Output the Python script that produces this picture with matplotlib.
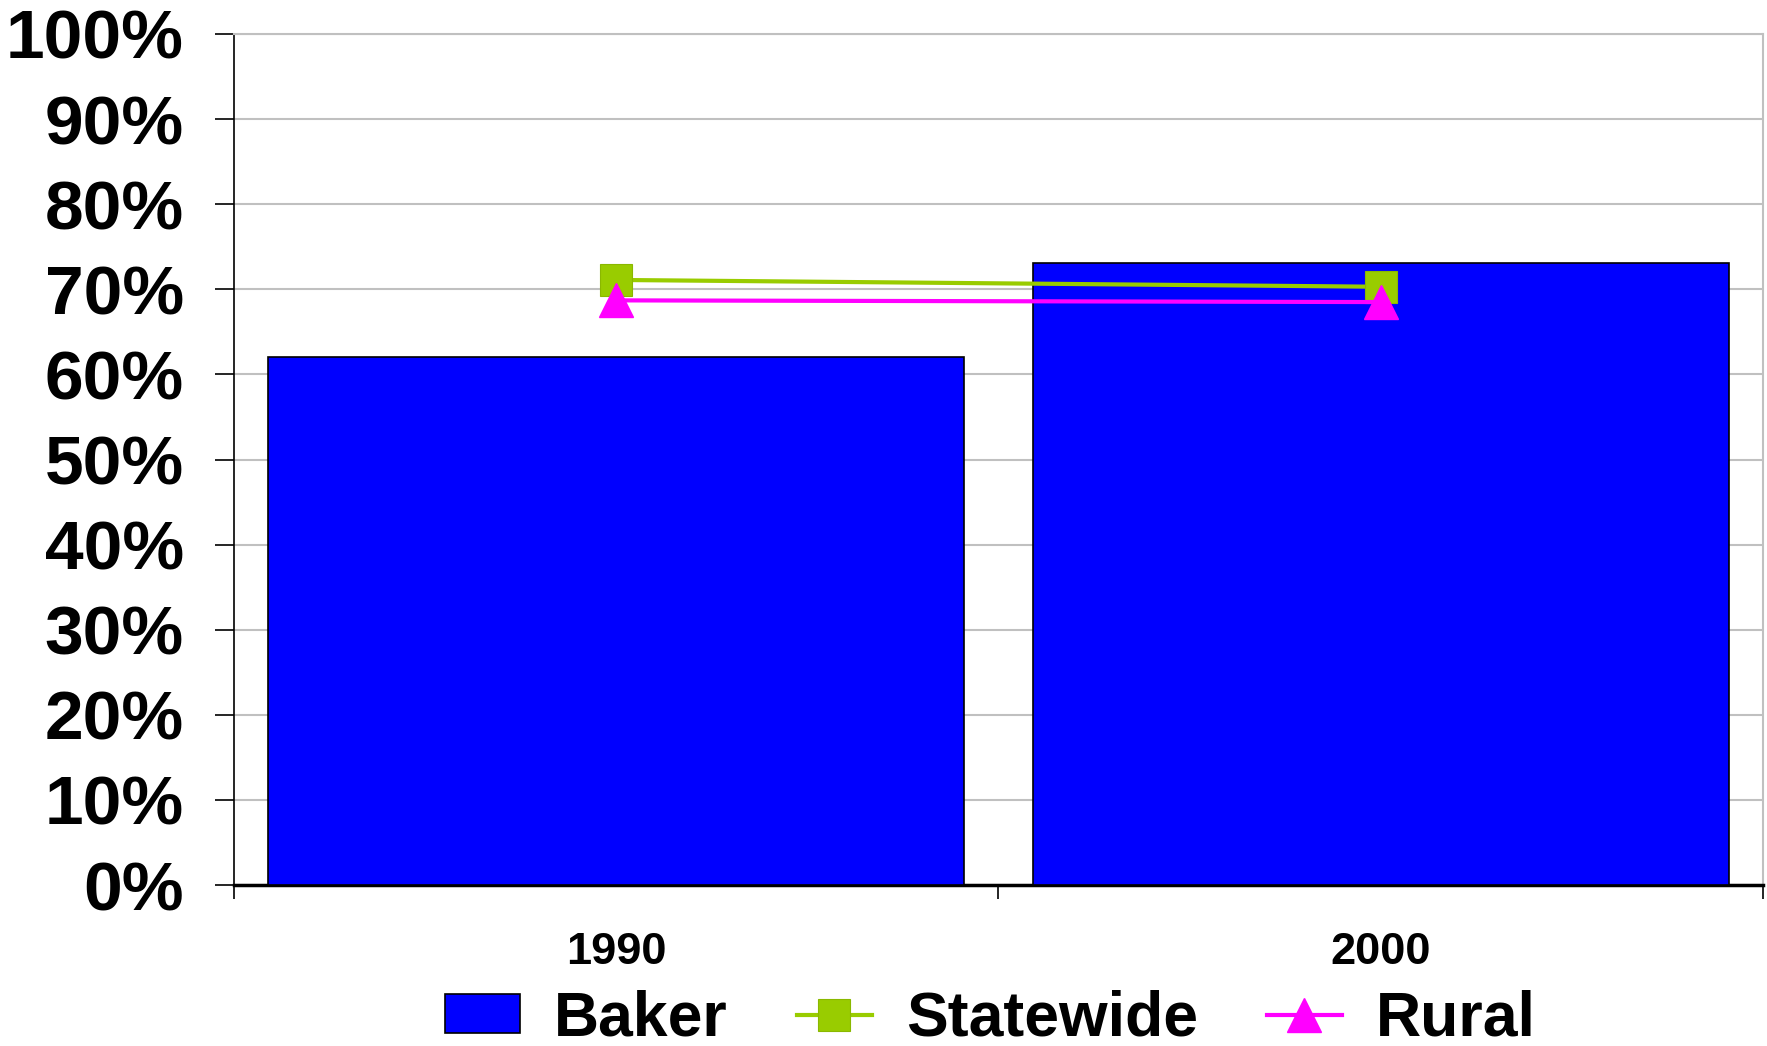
import matplotlib
matplotlib.use('Agg')
import matplotlib.pyplot as plt
from matplotlib.ticker import PercentFormatter, FixedLocator

# ── Data ───────────────────────────────────────────────────────────
years = ['1990', '2000']
baker = [62.0, 73.1]
statewide = [71.1, 70.3]
rural = [68.7, 68.5]

plt.rcParams['font.family'] = ['Liberation Sans', 'DejaVu Sans']
plt.rcParams['font.weight'] = 'bold'

fig = plt.figure(figsize=(17.67, 10.46), dpi=100)
ax = fig.add_axes([0.1324, 0.1539, 0.9977 - 0.1324, 0.9675 - 0.1539])

x = list(range(len(years)))
bars = ax.bar(x, baker, width=0.91, color='#0000FF', edgecolor='black',
              linewidth=1.2, label='Baker', zorder=3)
l_state, = ax.plot(x, statewide, color='#99CC00', lw=3, marker='s',
                   markersize=23, markeredgecolor='#8AB800',
                   markeredgewidth=0.8, label='Statewide', zorder=4)
l_rural, = ax.plot(x, rural, color='#FF00FF', lw=3, marker='^',
                   markersize=24, markeredgecolor='#FF00FF',
                   label='Rural', zorder=5)

ax.set_xlim(-0.5, len(years) - 0.5)
ax.set_ylim(0, 100)
ax.set_yticks(range(0, 101, 10))
ax.yaxis.set_major_formatter(PercentFormatter(decimals=0))
ax.yaxis.grid(True, color='#C0C0C0', lw=1.5, zorder=0)

ax.set_xticks(x)
ax.set_xticklabels(years)
ax.xaxis.set_minor_locator(FixedLocator([-0.5, 0.5, 1.5]))
ax.tick_params(axis='x', which='major', length=0, pad=34, labelsize=32.5)
ax.tick_params(axis='x', which='minor', length=10, width=1.2,
               direction='out', color='black')
ax.tick_params(axis='y', length=14, width=1.2, direction='out',
               pad=22, labelsize=50)

for side in ('top', 'right'):
    ax.spines[side].set_color('#C0C0C0')
    ax.spines[side].set_linewidth(1.5)
ax.spines['left'].set_linewidth(1.2)
ax.spines['bottom'].set_linewidth(2.5)

fig.legend([bars, l_state, l_rural], ['Baker', 'Statewide', 'Rural'],
           loc='center', bbox_to_anchor=(0.5606, 0.026),
           ncol=3, frameon=False, fontsize=45, handlelength=1.2,
           handleheight=0.58, handletextpad=0.55, columnspacing=1.1,
           borderpad=0.2)

fig.savefig('out.png', dpi=100)
